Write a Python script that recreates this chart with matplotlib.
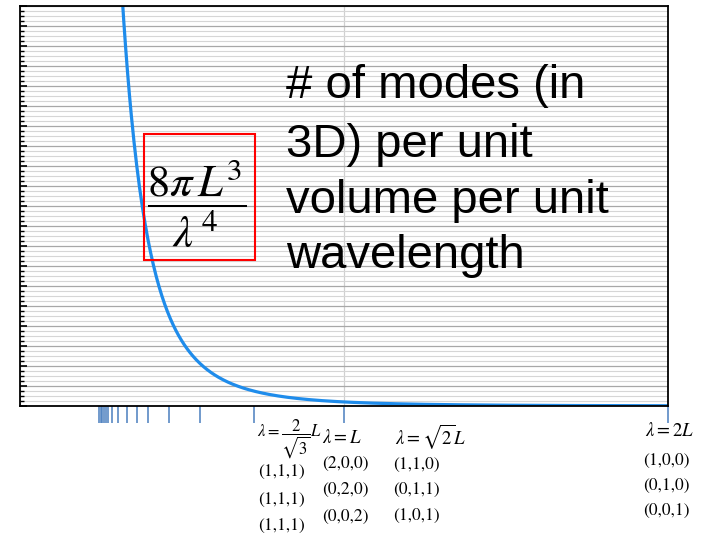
import numpy as np
import matplotlib
matplotlib.use('Agg')
import matplotlib.pyplot as plt
from matplotlib.patches import Rectangle
from matplotlib.ticker import MultipleLocator, NullLocator

# === DATA ===
# wavelength of each allowed standing-wave mode, in units of L (read off the blue ticks)
mode_wavelengths = [0.244, 0.249, 0.254, 0.259, 0.265, 0.272, 0.285, 0.302,
                    0.329, 0.361, 0.395, 0.461, 0.555, 0.721, 1.0, 2.0]
# height of the 8*pi*L^3/lambda^4 curve at lambda = L, in grid units
curve_scale = 0.2025

level_labels = [r'$\lambda=\dfrac{2}{\sqrt{3}}L$', r'$\lambda=L$',
                r'$\lambda=\sqrt{2}L$', r'$\lambda=2L$']
level_modes = [['(1,1,1)', '(1,1,1)', '(1,1,1)'],
               ['(2,0,0)', '(0,2,0)', '(0,0,2)'],
               ['(1,1,0)', '(0,1,1)', '(1,0,1)'],
               ['(1,0,0)', '(0,1,0)', '(0,0,1)']]
caption_lines = ['# of modes (in', '3D) per unit', 'volume per unit', 'wavelength']

W, H = 705, 538

def px(x, y):
    # pixel position -> figure fraction
    return x / W, 1 - y / H

plt.rcParams['mathtext.fontset'] = 'stix'
plt.rcParams['font.family'] = ['Liberation Sans', 'DejaVu Sans']

fig = plt.figure(figsize=(W / 100, H / 100), dpi=100)
ax = fig.add_axes([20 / W, 1 - 406 / H, 648 / W, 400 / H])

lam = np.linspace(0.28, 2.0, 600)
ax.plot(lam, curve_scale / lam**4, color='#1f8ceb', linewidth=2.3, zorder=3)

ax.set_xlim(0, 2)
ax.set_ylim(0, 20)

# grid
ax.yaxis.set_major_locator(MultipleLocator(1))
ax.yaxis.set_minor_locator(MultipleLocator(0.25))
ax.xaxis.set_major_locator(MultipleLocator(1))
ax.xaxis.set_minor_locator(NullLocator())
ax.grid(True, which='major', axis='y', color='#a8a8a8', linewidth=0.9)
ax.grid(True, which='minor', axis='y', color='#d6d6d6', linewidth=0.8)
ax.grid(True, which='major', axis='x', color='#d0d0d0', linewidth=0.9)
ax.set_axisbelow(True)
ax.tick_params(axis='y', which='major', direction='in', length=5, width=1.2, labelleft=False)
ax.tick_params(axis='y', which='minor', direction='in', length=3, width=1.0)
ax.tick_params(axis='x', length=0, labelbottom=False)
for sp in ax.spines.values():
    sp.set_linewidth(1.3)
    sp.set_zorder(4)

# mode ticks under the axis
ax.vlines(mode_wavelengths, 0, -0.042, transform=ax.get_xaxis_transform(),
          clip_on=False, color='#4a7ebf', linewidth=1.1)

# formula box
ax.add_patch(Rectangle((0.383, 7.3), 0.342, 6.3, fill=False, edgecolor='#ff0000',
                       linewidth=1.5, zorder=5))
ax.text(0.546, 10.1, r'$\dfrac{8\pi\, L^3}{\lambda^{\,4}}$', fontsize=32,
        ha='center', va='center', zorder=6)

# caption
for i, line in enumerate(caption_lines):
    fig.text(*px(286, [98, 157, 213, 268][i]), line, fontsize=34,
             ha='left', va='baseline')

# labels under the axis
label_pos = [(257, 439), (322, 438), (395, 437), (645, 431)]
label_size = [12, 13.5, 13.5, 13.5]
mode_x = [258, 322, 393, 643]
mode_y = [[473, 501, 527], [464, 490, 517], [465, 490, 516], [461, 486, 511]]
for k in range(len(level_labels)):
    fig.text(*px(*label_pos[k]), level_labels[k], fontsize=label_size[k],
             ha='left', va='center')
    for j, m in enumerate(level_modes[k]):
        fig.text(*px(mode_x[k], mode_y[k][j]), m, fontsize=12.5, family='STIXGeneral',
                 ha='left', va='center')

fig.savefig('out.png', dpi=100)
